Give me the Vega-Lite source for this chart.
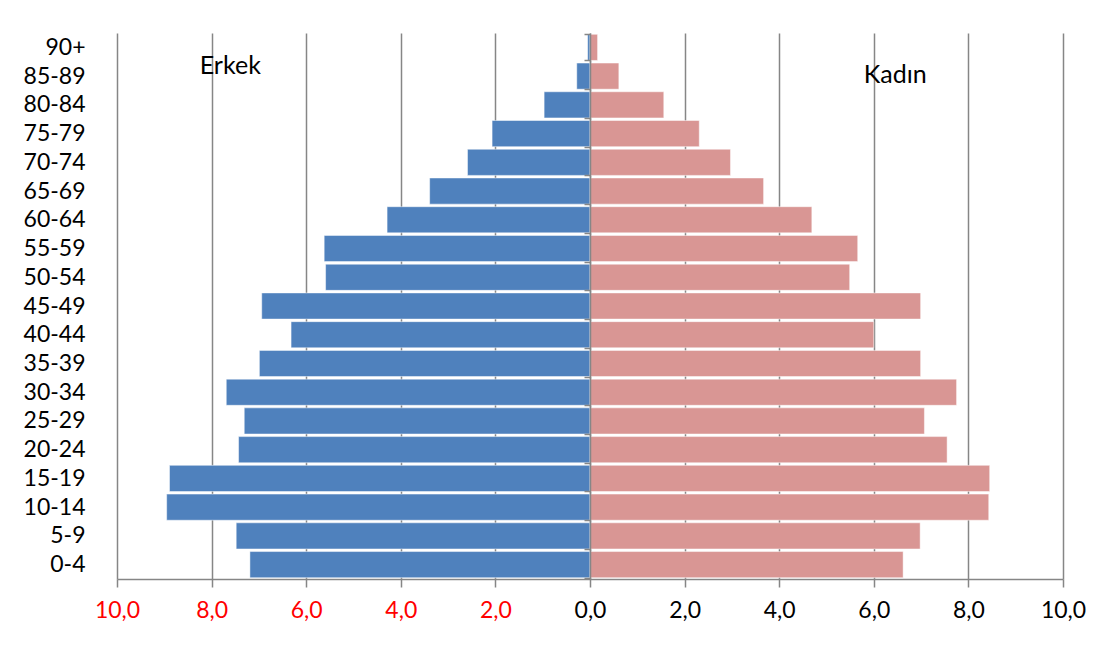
{
  "$schema": "https://vega.github.io/schema/vega-lite/v6.json",
  "autosize": {"type": "none"},
  "padding": {"left": 117, "top": 33, "right": 48, "bottom": 67},
  "width": 946,
  "height": 546,
  "background": "white",
  "config": {"view": {"stroke": null}, "font": "Lato"},
  "layer": [
    {
      "data": {
        "values": [
          {"age": "90+", "sex": "Erkek", "value": -0.05},
          {"age": "85-89", "sex": "Erkek", "value": -0.28},
          {"age": "80-84", "sex": "Erkek", "value": -0.97},
          {"age": "75-79", "sex": "Erkek", "value": -2.07},
          {"age": "70-74", "sex": "Erkek", "value": -2.59},
          {"age": "65-69", "sex": "Erkek", "value": -3.39},
          {"age": "60-64", "sex": "Erkek", "value": -4.29},
          {"age": "55-59", "sex": "Erkek", "value": -5.62},
          {"age": "50-54", "sex": "Erkek", "value": -5.59},
          {"age": "45-49", "sex": "Erkek", "value": -6.94},
          {"age": "40-44", "sex": "Erkek", "value": -6.32},
          {"age": "35-39", "sex": "Erkek", "value": -6.99},
          {"age": "30-34", "sex": "Erkek", "value": -7.69},
          {"age": "25-29", "sex": "Erkek", "value": -7.31},
          {"age": "20-24", "sex": "Erkek", "value": -7.43},
          {"age": "15-19", "sex": "Erkek", "value": -8.89},
          {"age": "10-14", "sex": "Erkek", "value": -8.95},
          {"age": "5-9", "sex": "Erkek", "value": -7.48},
          {"age": "0-4", "sex": "Erkek", "value": -7.19},
          {"age": "90+", "sex": "Kadın", "value": 0.16},
          {"age": "85-89", "sex": "Kadın", "value": 0.61},
          {"age": "80-84", "sex": "Kadın", "value": 1.56},
          {"age": "75-79", "sex": "Kadın", "value": 2.31},
          {"age": "70-74", "sex": "Kadın", "value": 2.97},
          {"age": "65-69", "sex": "Kadın", "value": 3.67},
          {"age": "60-64", "sex": "Kadın", "value": 4.69},
          {"age": "55-59", "sex": "Kadın", "value": 5.66},
          {"age": "50-54", "sex": "Kadın", "value": 5.49},
          {"age": "45-49", "sex": "Kadın", "value": 6.99},
          {"age": "40-44", "sex": "Kadın", "value": 6.0},
          {"age": "35-39", "sex": "Kadın", "value": 6.99},
          {"age": "30-34", "sex": "Kadın", "value": 7.75},
          {"age": "25-29", "sex": "Kadın", "value": 7.07},
          {"age": "20-24", "sex": "Kadın", "value": 7.55},
          {"age": "15-19", "sex": "Kadın", "value": 8.45},
          {"age": "10-14", "sex": "Kadın", "value": 8.43},
          {"age": "5-9", "sex": "Kadın", "value": 6.98},
          {"age": "0-4", "sex": "Kadın", "value": 6.62}
        ]
      },
      "mark": {"type": "bar", "stroke": "white", "strokeWidth": 0.8, "strokeOpacity": 0.6},
      "encoding": {
        "y": {
          "field": "age",
          "type": "nominal",
          "scale": {
            "domain": ["90+", "85-89", "80-84", "75-79", "70-74", "65-69", "60-64", "55-59", "50-54", "45-49", "40-44", "35-39", "30-34", "25-29", "20-24", "15-19", "10-14", "5-9", "0-4"],
            "paddingInner": 0.09,
            "paddingOuter": 0.045
          },
          "axis": {
            "title": null,
            "grid": false,
            "domain": true,
            "domainColor": "#868686",
            "domainWidth": 1.5,
            "ticks": true,
            "tickBand": "extent",
            "tickSize": 6,
            "tickColor": "#868686",
            "tickWidth": 1.5,
            "offset": -473,
            "labelPadding": 499,
            "labelFont": "Lato",
            "labelFontSize": 23,
            "labelColor": "black",
            "zindex": 1
          }
        },
        "x": {
          "field": "value",
          "type": "quantitative",
          "scale": {"domain": [-10, 10], "nice": false},
          "axis": {
            "title": null,
            "values": [-10, -8, -6, -4, -2, 0, 2, 4, 6, 8, 10],
            "grid": true,
            "gridColor": "#868686",
            "gridWidth": 1.5,
            "domainColor": "#868686",
            "domainWidth": 1.5,
            "tickColor": "#868686",
            "tickSize": 8,
            "tickWidth": 1.5,
            "labelFont": "Lato",
            "labelFontSize": 23,
            "labelPadding": 12,
            "labelFlush": false,
            "labelOverlap": false,
            "labelExpr": "replace(format(abs(datum.value), '.1f'), '.', ',')",
            "labelColor": {"condition": {"test": "datum.value < 0", "value": "#FF0000"}, "value": "black"},
            "zindex": 0
          }
        },
        "color": {
          "field": "sex",
          "type": "nominal",
          "scale": {"domain": ["Erkek", "Kadın"], "range": ["#4F81BD", "#D99694"]},
          "legend": null
        }
      }
    },
    {
      "data": {"values": [{"label": "Erkek"}]},
      "mark": {"type": "text", "align": "left", "baseline": "alphabetic", "dy": -2, "font": "Lato", "fontSize": 25, "color": "black"},
      "encoding": {
        "x": {"datum": -8.25, "type": "quantitative"},
        "y": {"datum": "85-89", "type": "nominal"},
        "text": {"field": "label", "type": "nominal"}
      }
    },
    {
      "data": {"values": [{"label": "Kadın"}]},
      "mark": {"type": "text", "align": "left", "baseline": "alphabetic", "dy": 7, "font": "Lato", "fontSize": 25, "color": "black"},
      "encoding": {
        "x": {"datum": 5.79, "type": "quantitative"},
        "y": {"datum": "85-89", "type": "nominal"},
        "text": {"field": "label", "type": "nominal"}
      }
    }
  ]
}
